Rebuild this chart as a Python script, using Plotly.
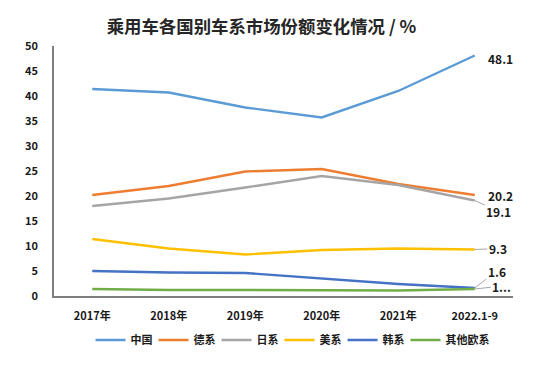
import plotly.graph_objects as go

categories = ["2017年", "2018年", "2019年", "2020年", "2021年", "2022.1-9"]
series_names = ["中国", "德系", "日系", "美系", "韩系", "其他欧系"]
china = [41.4, 40.7, 37.7, 35.7, 41.0, 48.1]
germany = [20.2, 22.0, 24.9, 25.4, 22.4, 20.2]
japan = [18.0, 19.5, 21.7, 24.0, 22.2, 19.1]
usa = [11.4, 9.5, 8.3, 9.2, 9.5, 9.3]
korea = [5.0, 4.7, 4.6, 3.5, 2.4, 1.6]
other_eu = [1.4, 1.2, 1.2, 1.1, 1.1, 1.4]
end_labels = ["48.1", "20.2", "19.1", "9.3", "1.6", "1..."]

colors = ["#5B9BD5", "#ED7D31", "#A5A5A5", "#FFC000", "#4472C4", "#70AD47"]
all_series = [china, germany, japan, usa, korea, other_eu]

FONT = "Noto Sans CJK SC"

fig = go.Figure()
for name, vals, c in zip(series_names, all_series, colors):
    fig.add_trace(go.Scatter(x=categories, y=vals, mode="lines", name="<b>" + name + "</b>",
                             line=dict(color=c, width=2.4)))
# empty spacer entry so the last legend label is not clipped
fig.add_trace(go.Scatter(x=[categories[0]], y=[None], mode="lines", name=" ",
                         line=dict(width=0, color="rgba(0,0,0,0)"), hoverinfo="skip"))

# end labels (Excel style data labels with leader lines)
# (dx, dy, leader): pixel offset of label centre from the data point
offsets = [(24, 3, False), (24, 0, False), (24, 11, True), (23, -1, True), (22, -17, True), (27, -3, True)]
for vals, lab, (dx, dy, leader) in zip(all_series, end_labels, offsets):
    if leader:
        fig.add_annotation(x=categories[-1], y=vals[-1], text="<b>" + lab + "</b>",
                           showarrow=True, arrowhead=0, arrowwidth=1, arrowcolor="#A6A6A6",
                           ax=dx, ay=dy, axref="pixel", ayref="pixel",
                           standoff=0, startstandoff=0,
                           font=dict(family=FONT, size=12, color="#1a1a1a"))
    else:
        fig.add_annotation(x=categories[-1], y=vals[-1], text="<b>" + lab + "</b>",
                           showarrow=False, xanchor="left", xshift=11, yshift=-dy,
                           font=dict(family=FONT, size=12, color="#1a1a1a"))

fig.update_layout(
    width=553, height=378,
    margin=dict(l=54, r=40, t=46, b=82, autoexpand=False),
    paper_bgcolor="white", plot_bgcolor="white",
    title=dict(text="<b>乘用车各国别车系市场份额变化情况 / %</b>", x=261.5 / 553, xanchor="center",
               xref="container", y=1 - 27 / 378, yanchor="middle",
               font=dict(family=FONT, size=17.4, color="#262626")),
    font=dict(family=FONT, size=11, color="#1a1a1a"),
    showlegend=True,
    legend=dict(orientation="h", x=0.56, xanchor="center", y=-0.176, yanchor="middle",
                font=dict(family=FONT, size=11, color="#1a1a1a"),
                entrywidth=18, entrywidthmode="pixels",
                traceorder="normal", tracegroupgap=0),
)
fig.update_xaxes(type="category", range=[-0.5, 5.5], showline=True, linecolor="#7F7F7F",
                 linewidth=1.5, showgrid=False, ticks="", ticklabelstandoff=9, automargin=False,
                 tickfont=dict(family=FONT, size=11, color="#1a1a1a", weight="bold"))
fig.update_yaxes(range=[0, 50], dtick=5, showline=True, linecolor="#7F7F7F", linewidth=1.5,
                 showgrid=False, zeroline=False, ticks="", ticklabelstandoff=12, automargin=False,
                 tickfont=dict(family=FONT, size=11, color="#1a1a1a", weight="bold"))

fig.write_html("out.html", post_script="document.body.style.margin='0';",
               config={"displayModeBar": False})
